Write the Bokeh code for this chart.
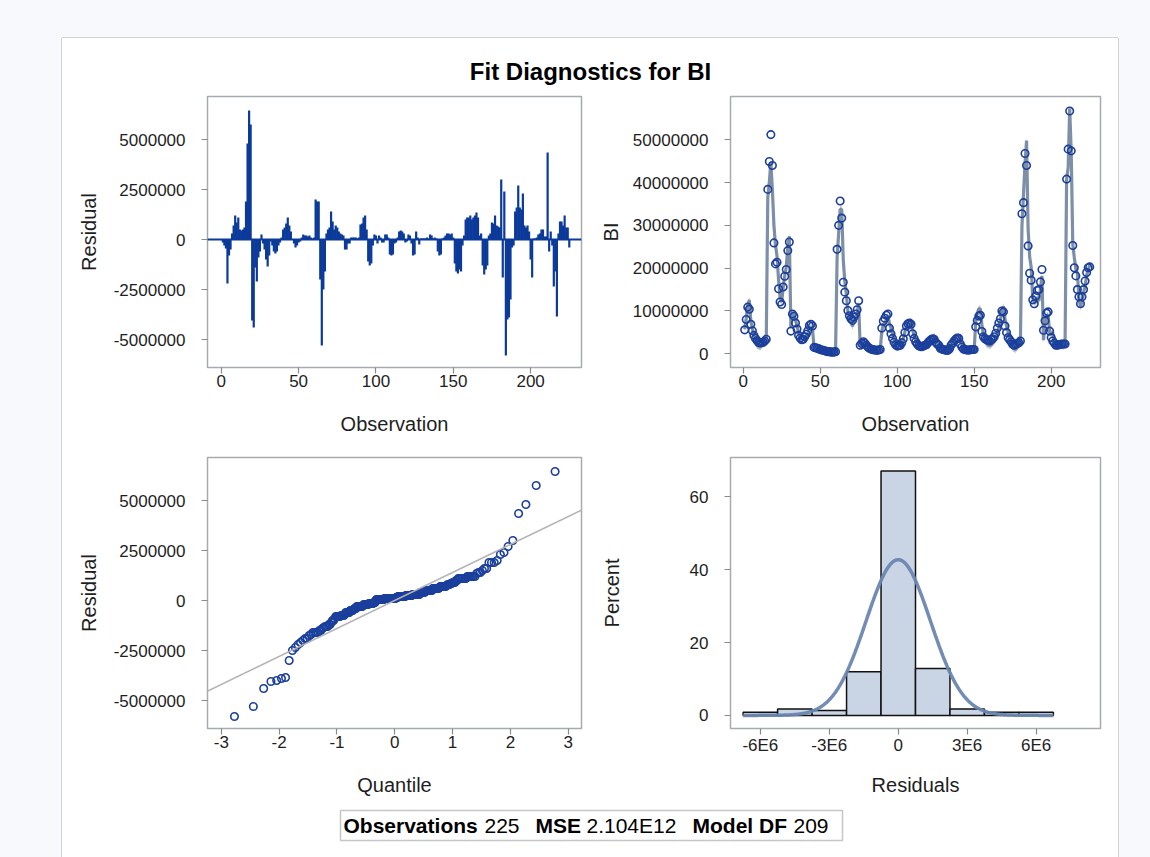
import numpy as np
from statistics import NormalDist
from bokeh.plotting import figure
from bokeh.models import (Range1d, FixedTicker, CustomJSTickFormatter,
                          Span, Spacer, Slope)
from bokeh.core.properties import value
from bokeh.layouts import column, row
from bokeh.embed import file_html
from bokeh.resources import INLINE

# ---------------- data ----------------
title_text = "Fit Diagnostics for BI"

# observed BI, in millions, observations 1..225
bi_millions = [
    5.6, 8.0, 10.9, 10.4, 6.9, 5.4, 4.3, 3.6, 3.1, 2.7, 2.6, 2.6, 2.7, 3.0, 3.4,
    38.4, 44.9, 51.2, 44.0, 25.9, 21.0, 21.4, 15.2, 12.1, 11.5, 15.6, 18.1, 19.7, 24.1, 26.1,
    5.3, 9.3, 8.8, 7.2, 5.8, 4.3, 3.7, 3.3, 3.4, 4.0, 4.6, 5.4, 6.6, 6.9, 6.5,
    1.5, 1.4, 1.3, 1.2, 1.0, 0.9, 0.8, 0.7, 0.6, 0.5, 0.5, 0.4, 0.4, 0.4, 0.5,
    24.4, 30.0, 35.7, 31.7, 16.7, 14.4, 12.4, 10.1, 8.9, 8.2, 7.8, 8.6, 9.3, 10.3, 12.4,
    2.0, 2.4, 2.8, 2.5, 2.0, 1.6, 1.3, 1.1, 1.0, 0.9, 0.9, 0.8, 0.9, 1.0, 6.0,
    7.6, 8.3, 9.0, 9.3, 6.0, 4.7, 3.6, 2.7, 2.1, 1.8, 1.9, 2.0, 2.6, 3.5, 5.0,
    6.5, 7.0, 7.2, 6.9, 4.7, 3.6, 2.8, 2.3, 1.9, 1.7, 1.7, 1.8, 2.0, 2.1, 2.6,
    3.0, 3.3, 3.5, 3.4, 2.7, 2.3, 2.0, 1.3, 1.1, 1.0, 0.9, 0.8, 0.8, 1.2, 2.0,
    2.5, 3.0, 3.4, 3.7, 3.6, 2.3, 1.6, 1.1, 1.0, 0.9, 0.9, 0.9, 1.0, 1.0, 1.0,
    6.3, 7.8, 8.8, 9.0, 5.2, 4.0, 3.5, 3.3, 3.2, 3.0, 3.3, 3.5, 4.0, 4.8, 6.0,
    7.2, 8.2, 10.0, 9.8, 6.5, 5.0, 3.8, 3.3, 2.8, 2.2, 2.0, 2.2, 2.4, 2.6, 3.0,
    32.7, 35.3, 46.8, 44.0, 25.2, 18.8, 17.2, 12.6, 11.7, 13.5, 14.8, 15.0, 16.8, 19.7, 5.5,
    7.7, 9.5, 9.8, 5.3, 3.8, 3.0, 2.5, 2.0, 2.0, 2.1, 2.2, 2.3, 2.3, 2.3, 40.8,
    47.8, 56.7, 47.4, 25.3, 20.1, 18.2, 15.0, 13.3, 11.7, 13.3, 15.0, 17.0, 19.0, 20.1, 20.3,
]

# residuals, in millions, observations 1..225
residual_millions = [
    -0.15, -0.3, -0.45, -2.2, -0.8, -0.5, 0.3, 0.7, 1.2, 0.85, 1.1, 0.5, 0.45, 0.5, 0.6,
    1.9, 4.8, 6.45, 5.75, -4.05, -4.4, -1.4, -2.1, -0.9, -0.6, 0.25, -0.2, -0.5, -1.0, -1.35,
    -0.8, -0.1, -0.3, -0.6, -0.7, -0.6, -0.3, -0.15, 0.1, 0.5, 0.6, 0.8, 1.1, 0.7, 0.4,
    0.0, -0.2, -0.4, -0.3, -0.15, -0.1, 0.1, 0.25, 0.2, 0.2, 0.15, 0.2, 0.1, 0.05, 0.1,
    2.0, 1.9, 1.9, -2.0, -5.3, -2.5, -1.6, 0.3, 0.5, 0.6, 1.4, 0.9, 0.5, 0.7, 0.6,
    0.4, 0.3, 0.25, 0.2, -0.5, -0.5, -0.2, -0.2, 0.1, 0.1, 0.1, 0.1, 0.05, 0.1, 0.75,
    0.8, 1.1, 1.2, 0.5, -1.1, -1.3, -1.2, -0.3, 0.25, 0.2, -0.2, 0.2, 0.1, -0.15, -0.15,
    0.25, 0.25, 0.1, -0.75, -0.8, -0.75, -0.2, -0.15, 0.1, 0.4, 0.45, 0.4, 0.3, -0.15, -0.1,
    0.25, 0.2, -0.2, -0.8, -0.75, 0.4, 0.1, -0.25, 0.05, 0.05, 0.05, 0.05, 0.1, 0.05, 0.25,
    0.2, 0.05, 0.1, 0.05, -0.6, -0.8, -0.75, 0.05, 0.1, 0.2, 0.3, 0.3, 0.25, 0.3, 0.1,
    -1.2, -1.6, -1.7, -1.5, -1.6, -0.3, 0.2, 1.0, 1.1, 1.1, 1.2, 1.0, 1.1, 1.2, 1.35,
    1.1, 0.2, 0.3, -1.3, -1.75, -1.5, -1.3, 0.2, 0.3, 0.85, 0.8, 1.2, 0.7, 0.65, 0.6,
    3.0, -1.9, 2.4, -5.8, -4.0, -3.9, -3.0, -0.4, -0.3, 1.4, 1.6, 2.7, 1.6, 1.5, 2.3,
    0.7, 0.6, 0.7, 0.4, -1.0, -1.9, 0.05, 0.05, 0.1, 0.25, 0.3, 0.5, 0.5, 0.15, 0.15,
    4.35, -0.6, 0.4, -0.3, -2.35, -1.6, -3.85, 0.3, 0.9, 0.9, 0.7, 1.2, 0.6, 0.6, -0.4,
]

ci_half_millions = 0.8          # half width of the fit band
resid_sigma = 1.4e6             # scale of the normal reference line / curve

hist_edges = [-6.75e6, -5.25e6, -3.75e6, -2.25e6, -0.75e6, 0.75e6, 2.25e6, 3.75e6, 5.25e6, 6.75e6]
hist_percent = [0.89, 1.78, 1.33, 12.0, 67.1, 12.9, 1.78, 0.89, 0.89]

stat_labels = ["Observations", "MSE", "Model DF"]
stat_values = ["225", "2.104E12", "209"]

tl_xticks = [0, 50, 100, 150, 200]
resid_ticks = [-5000000, -2500000, 0, 2500000, 5000000]
bi_ticks = [0, 10000000, 20000000, 30000000, 40000000, 50000000]
qq_xticks = [-3, -2, -1, 0, 1, 2, 3]
hist_xticks = [-6e6, -3e6, 0, 3e6, 6e6]
pct_ticks = [0, 20, 40, 60]

# ---------------- derived ----------------
n = len(bi_millions)
obs = np.arange(1, n + 1)
bi = np.array(bi_millions) * 1e6
res = np.array(residual_millions) * 1e6
pred = bi - res
ci = ci_half_millions * 1e6

nd = NormalDist()
qq_q = np.array([nd.inv_cdf((i + 1 - 0.375) / (n + 0.25)) for i in range(n)])
qq_r = np.sort(res)

bw = hist_edges[1] - hist_edges[0]
cx = np.linspace(hist_edges[0], hist_edges[-1], 400)
cy = 100 * bw * np.exp(-0.5 * (cx / resid_sigma) ** 2) / (resid_sigma * np.sqrt(2 * np.pi))

# ---------------- style ----------------
FONT = "Liberation Sans"
TXT = "#1e1e1e"
FRAME = "#a6abb1"
TICK = "#8a8a8a"
NEEDLE = "#0b3a9a"
CIRC = "#1b3f9c"
TICK_PX = "17px"
LAB_PX = "20px"

INT_FMT = "return tick.toFixed(0);"
E6_FMT = "return tick == 0 ? '0' : (tick / 1e6).toFixed(0) + 'E6';"


def base_fig(w, h, xr, yr, mbl, mbr, mbt, mbb):
    p = figure(width=w, height=h, x_range=Range1d(*xr), y_range=Range1d(*yr),
               output_backend="svg", toolbar_location=None, title=None,
               min_border_left=mbl, min_border_right=mbr,
               min_border_top=mbt, min_border_bottom=mbb)
    p.xgrid.visible = False
    p.ygrid.visible = False
    p.outline_line_color = FRAME
    p.outline_line_width = 1.5
    p.background_fill_color = "white"
    p.border_fill_color = "white"
    return p


def style_axes(p, xlabel, ylabel, xticks, yticks, xlab_sd, ylab_sd, xfmt=INT_FMT):
    p.xaxis.axis_label = xlabel
    p.yaxis.axis_label = ylabel
    p.xaxis.ticker = FixedTicker(ticks=xticks)
    p.yaxis.ticker = FixedTicker(ticks=yticks)
    p.xaxis.formatter = CustomJSTickFormatter(code=xfmt)
    p.yaxis.formatter = CustomJSTickFormatter(code=INT_FMT)
    for ax in (p.xaxis[0], p.yaxis[0]):
        ax.axis_line_color = None
        ax.major_tick_line_color = TICK
        ax.major_tick_line_width = 1.2
        ax.major_tick_out = 6
        ax.major_tick_in = 0
        ax.minor_tick_line_color = None
        ax.major_label_text_font = FONT
        ax.major_label_text_font_size = TICK_PX
        ax.major_label_text_color = TXT
        ax.axis_label_text_font = FONT
        ax.axis_label_text_font_size = LAB_PX
        ax.axis_label_text_font_style = "normal"
        ax.axis_label_text_color = TXT
    p.xaxis.major_label_standoff = 1
    p.yaxis.major_label_standoff = 16
    p.xaxis.axis_label_standoff = xlab_sd
    p.yaxis.axis_label_standoff = ylab_sd


def blank_fig(w, h):
    p = figure(width=w, height=h, x_range=Range1d(0, w), y_range=Range1d(0, h),
               output_backend="svg", toolbar_location=None, title=None, min_border=0,
               x_axis_type=None, y_axis_type=None)
    p.grid.visible = False
    p.outline_line_color = None
    p.border_fill_color = "white"
    p.background_fill_color = "white"
    return p


# ---- header (title) ----
header = blank_fig(1056, 50)
header.text(x=[528], y=[17], text=[title_text], text_align="center", text_baseline="middle",
            text_font=value(FONT), text_font_size="24px", text_font_style="bold",
            text_color="black")

# ---- top left: residual by observation ----
p1 = base_fig(528, 352, (-8.9, 232.9), (-6.4e6, 7.15e6), 145, 9, 8, 73)
p1.add_layout(Span(location=0, dimension="width", line_color=NEEDLE, line_width=2))
p1.segment(x0=obs, y0=np.zeros(n), x1=obs, y1=res, line_color=NEEDLE, line_width=2.2)
style_axes(p1, "Observation", "Residual", tl_xticks, resid_ticks, 23, 11)

# ---- top right: BI by observation with fit ----
p2 = base_fig(528, 352, (-8.2, 232.0), (-3.2e6, 60.1e6), 140, 18, 8, 73)
p2.varea(x=obs, y1=pred - ci, y2=pred + ci, fill_color="#8596ad", fill_alpha=0.5)
p2.line(obs, pred, line_color="#70839f", line_width=3.2, line_alpha=0.9)
p2.scatter(obs, bi, marker="circle", size=7.5, fill_color=None, line_color=CIRC, line_width=1.6)
style_axes(p2, "Observation", "BI", tl_xticks, bi_ticks, 23, 8)

# ---- bottom left: Q-Q plot ----
p3 = base_fig(528, 360, (-3.24, 3.23), (-6.4e6, 7.15e6), 145, 9, 17, 72)
p3.add_layout(Slope(gradient=resid_sigma, y_intercept=0, line_color="#b4b4b4", line_width=1.6))
p3.scatter(qq_q, qq_r, marker="circle", size=7.5, fill_color=None, line_color=CIRC, line_width=1.6)
style_axes(p3, "Quantile", "Residual", qq_xticks, resid_ticks, 23, 11)

# ---- bottom right: histogram of residuals ----
p4 = base_fig(528, 360, (-7.3e6, 8.8e6), (-3.6, 70.8), 140, 18, 17, 72)
p4.quad(left=hist_edges[:-1], right=hist_edges[1:], bottom=0, top=hist_percent,
        fill_color="#c9d5e5", line_color="#111111", line_width=1.5)
p4.line(cx, cy, line_color="#6a86b0", line_width=3.5, line_alpha=0.95)
style_axes(p4, "Residuals", "Percent", hist_xticks, pct_ticks, 16, 64, xfmt=E6_FMT)

# ---- footer (fit statistics) ----
footer = blank_fig(1056, 57)
footer.quad(left=[278], right=[780], bottom=[17], top=[47], fill_color="white",
            line_color="#c6c6c6", line_width=1.5)
label_x = [281, 473, 630]
value_x = [422, 524, 731]
footer.text(x=label_x, y=[32] * 3, text=stat_labels, text_baseline="middle",
            text_font=value(FONT), text_font_size="21px", text_font_style="bold",
            text_color="black")
footer.text(x=value_x, y=[32] * 3, text=stat_values, text_baseline="middle",
            text_font=value(FONT), text_font_size="21px", text_color="black")

card = column(header, row(p1, p2), row(p3, p4), footer,
              styles={"background-color": "white",
                      "box-shadow": "-1px 0 0 0 #d2d2d2, 1px 0 0 0 #d2d2d2, 0 -1px 0 0 #d2d2d2"})
page = column(Spacer(width=1150, height=38),
              row(Spacer(width=62, height=819), card),
              styles={"background-color": "#f8f9fc"})

open("out.html", "w").write(file_html(page, INLINE))
